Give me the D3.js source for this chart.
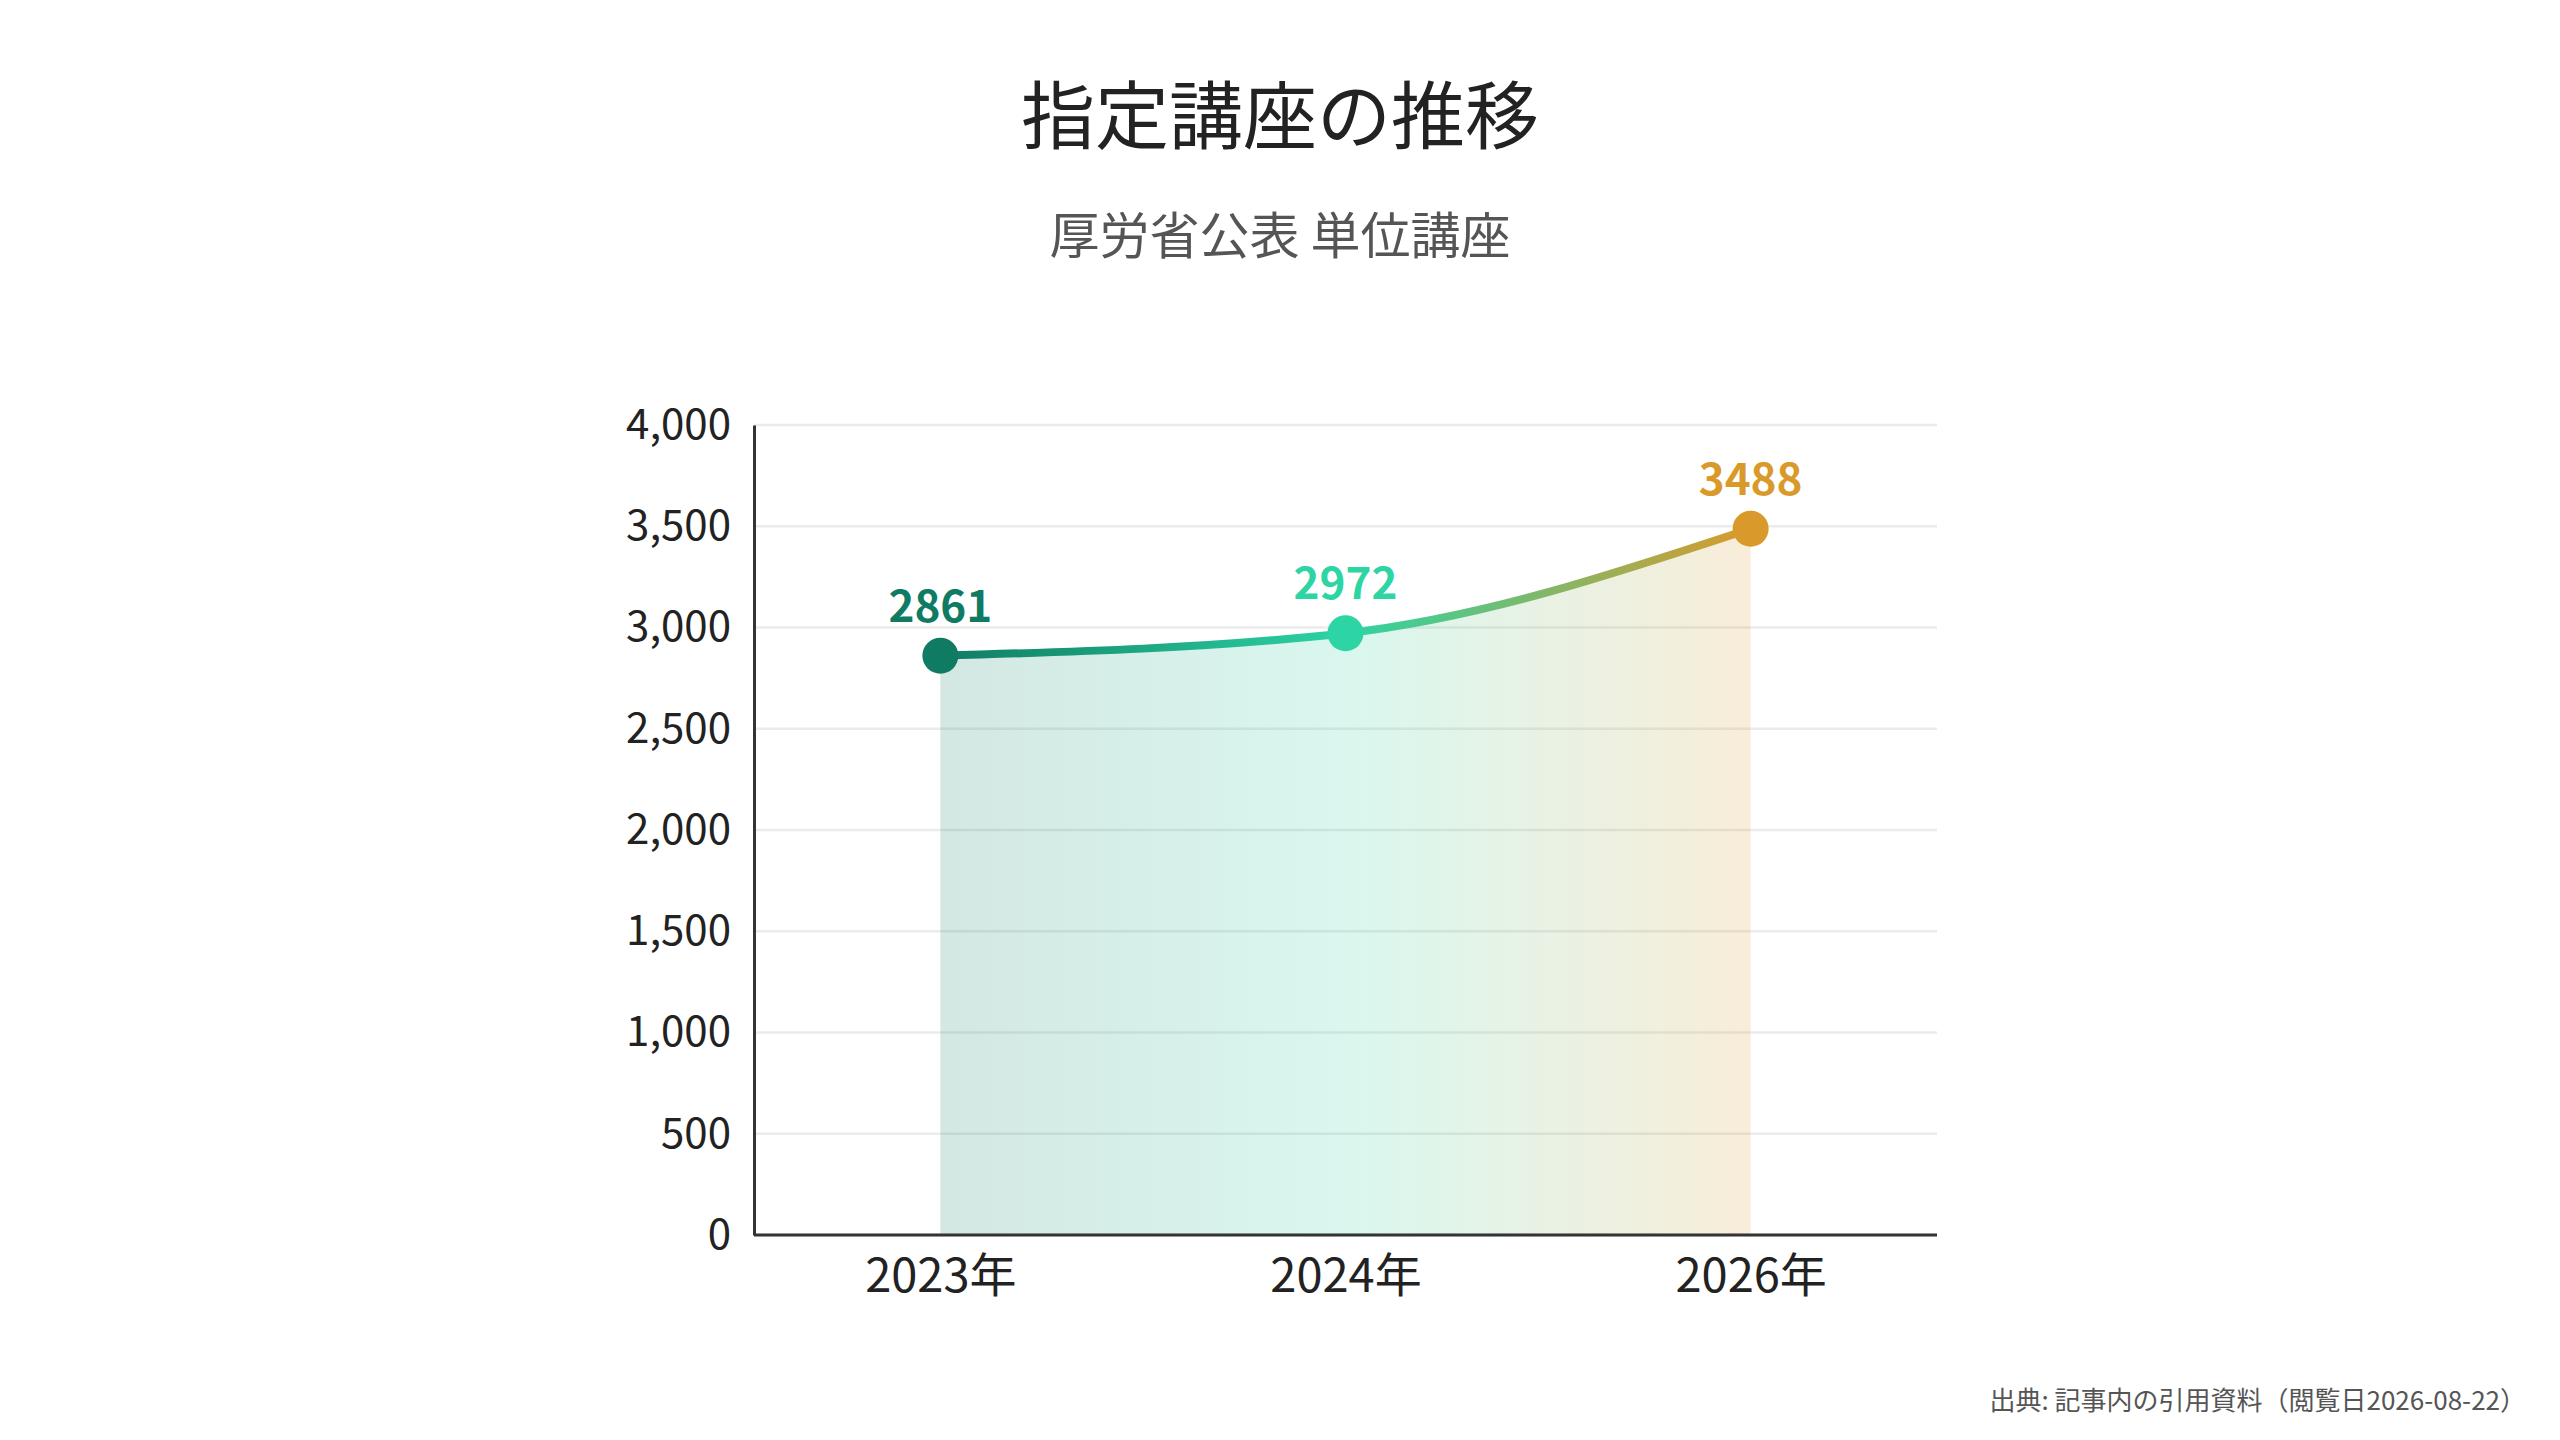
<!DOCTYPE html>
<html>
<head>
<meta charset="utf-8">
<script src="https://cdn.jsdelivr.net/npm/d3@7"></script>
<style>
  html, body { margin: 0; padding: 0; background: #fff; }
  svg { display: block; font-family: "Noto Sans CJK JP", "Noto Sans", sans-serif; }
</style>
</head>
<body>
<svg id="chart"></svg>
<script>
var WIDTH = 2560;
var HEIGHT = 1440;

// data
var years = ["2023年", "2024年", "2026年"];
var courses = [2861, 2972, 3488];
var pointColors = ["#0f7b63", "#2dd4a4", "#d99a2b"];
var yTicks = [0, 500, 1000, 1500, 2000, 2500, 3000, 3500, 4000];

var margin = { top: 425, right: 623, bottom: 205, left: 754 };

var svg = d3.select("#chart").attr("width", WIDTH).attr("height", HEIGHT);

var x = d3.scalePoint()
  .domain(years)
  .range([margin.left, WIDTH - margin.right])
  .padding(0.46);

var y = d3.scaleLinear()
  .domain([0, 4000])
  .range([HEIGHT - margin.bottom, margin.top]);

var data = years.map(function (d, i) {
  return { year: d, value: courses[i], color: pointColors[i] };
});

//gradients for line and area
var defs = svg.append("defs");
function addGradient(id, opacity) {
  var g = defs.append("linearGradient")
    .attr("id", id)
    .attr("gradientUnits", "userSpaceOnUse")
    .attr("x1", x(years[0])).attr("x2", x(years[years.length - 1]))
    .attr("y1", 0).attr("y2", 0);
  var span = x(years[years.length - 1]) - x(years[0]);
  data.forEach(function (d) {
    g.append("stop")
      .attr("offset", (x(d.year) - x(years[0])) / span)
      .attr("stop-color", d.color)
      .attr("stop-opacity", opacity);
  });
}
addGradient("lineGrad", 1);
addGradient("areaGrad", 0.18);

// titles
svg.append("text")
  .attr("x", WIDTH / 2).attr("y", 143)
  .attr("text-anchor", "middle")
  .style("font-size", "74px")
  .style("fill", "#222")
  .text("指定講座の推移");

svg.append("text")
  .attr("x", WIDTH / 2).attr("y", 254)
  .attr("text-anchor", "middle")
  .style("font-size", "50px")
  .style("fill", "#555")
  .text("厚労省公表 単位講座");

// gridlines
svg.append("g")
  .selectAll("line")
  .data(yTicks)
  .enter()
  .append("line")
  .attr("x1", margin.left).attr("x2", WIDTH - margin.right)
  .attr("y1", function (d) { return y(d); })
  .attr("y2", function (d) { return y(d); })
  .style("stroke", "#ebebeb")
  .style("stroke-width", "2.5px");

// area under curve
var area = d3.area()
  .x(function (d) { return x(d.year); })
  .y0(y(0))
  .y1(function (d) { return y(d.value); })
  .curve(d3.curveMonotoneX);

svg.append("path")
  .datum(data)
  .attr("d", area)
  .style("fill", "url(#areaGrad)");

// axes
var yAxis = svg.append("g")
  .attr("transform", "translate(" + margin.left + ",0)")
  .call(d3.axisLeft(y).tickValues(yTicks).tickSize(0).tickPadding(23).tickFormat(d3.format(",")));
yAxis.select(".domain").style("stroke", "#333").style("stroke-width", "3px");
yAxis.selectAll("text").style("font-size", "42px").style("fill", "#222")
  .style("font-family", "\"Noto Sans CJK JP\", sans-serif");

var xAxis = svg.append("g")
  .attr("transform", "translate(0," + y(0) + ")")
  .call(d3.axisBottom(x).tickSize(0).tickPadding(24));
xAxis.select(".domain")
  .attr("d", "M" + margin.left + ",0H" + (WIDTH - margin.right))
  .style("stroke", "#333").style("stroke-width", "3px");
xAxis.selectAll("text").style("font-size", "47px").style("fill", "#222")
  .style("font-family", "\"Noto Sans CJK JP\", sans-serif");

// line
var line = d3.line()
  .x(function (d) { return x(d.year); })
  .y(function (d) { return y(d.value); })
  .curve(d3.curveMonotoneX);

svg.append("path")
  .datum(data)
  .attr("d", line)
  .style("fill", "none")
  .style("stroke", "url(#lineGrad)")
  .style("stroke-width", "8px")
  .style("stroke-linecap", "round");

// points
svg.append("g")
  .selectAll("circle")
  .data(data)
  .enter()
  .append("circle")
  .attr("cx", function (d) { return x(d.year); })
  .attr("cy", function (d) { return y(d.value); })
  .attr("r", 18)
  .style("fill", function (d) { return d.color; });

// value labels
svg.append("g")
  .selectAll("text")
  .data(data)
  .enter()
  .append("text")
  .attr("x", function (d) { return x(d.year); })
  .attr("y", function (d) { return y(d.value) - 34; })
  .attr("text-anchor", "middle")
  .style("font-size", "44px")
  .style("font-weight", "bold")
  .style("fill", function (d) { return d.color; })
  .text(function (d) { return d.value; });

// source note
svg.append("text")
  .attr("x", 2526).attr("y", 1410)
  .attr("text-anchor", "end")
  .style("font-size", "26px")
  .style("fill", "#555")
  .text("出典: 記事内の引用資料（閲覧日2026-08-22）");
</script>
</body>
</html>
